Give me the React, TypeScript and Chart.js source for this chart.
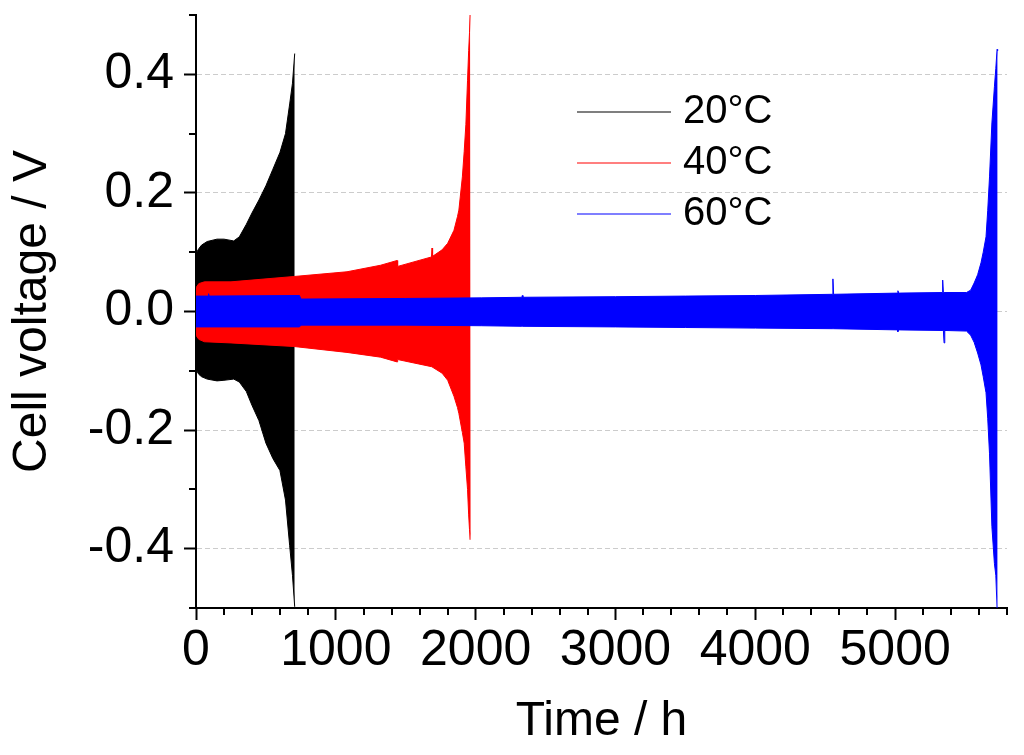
import { useEffect, useRef } from 'react';
import { Chart, Plugin } from 'chart.js/auto';

const FONT = "'Liberation Sans', Arial, sans-serif";

const seriesNames = ['20°C', '40°C', '60°C'];
const seriesColors = ['#000000', '#ff0000', '#0000ff'];

// 20 °C cell: envelope of the voltage swing (time in h, voltage in V)
const blackTime = [0, 20, 40, 80, 150, 200, 270, 310, 360, 400, 450, 500, 550, 600, 640, 670, 690, 706];
const blackHigh = [0.098, 0.106, 0.112, 0.118, 0.122, 0.122, 0.119, 0.126, 0.147, 0.166, 0.188, 0.212, 0.24, 0.268, 0.3, 0.35, 0.385, 0.435];
const blackLow = [-0.098, -0.106, -0.11, -0.114, -0.117, -0.116, -0.114, -0.119, -0.135, -0.158, -0.184, -0.222, -0.248, -0.268, -0.318, -0.395, -0.445, -0.498];

// 40 °C cell
const redTime = [0, 20, 60, 250, 700, 1080, 1320, 1438, 1442, 1684, 1688, 1692, 1760, 1800, 1845, 1870, 1880, 1905, 1918, 1930, 1942, 1950, 1956, 1960, 1965];
const redHigh = [0.04, 0.047, 0.05, 0.05, 0.059, 0.067, 0.078, 0.086, 0.076, 0.092, 0.107, 0.093, 0.104, 0.115, 0.137, 0.16, 0.171, 0.227, 0.27, 0.315, 0.39, 0.44, 0.47, 0.5, 0.5];
const redLow = [-0.04, -0.047, -0.051, -0.053, -0.059, -0.069, -0.077, -0.085, -0.081, -0.093, -0.093, -0.094, -0.104, -0.116, -0.143, -0.162, -0.172, -0.204, -0.222, -0.262, -0.3, -0.343, -0.368, -0.385, -0.385];

// 60 °C cell
const blueTime = [0, 86, 90, 94, 740, 750, 1500, 2040, 2330, 2334, 2338, 3000, 3500, 4000, 4550, 4555, 4560, 5015, 5020, 5025, 5336, 5340, 5345, 5350, 5355, 5510, 5540, 5565, 5590, 5614, 5630, 5650, 5662, 5675, 5692, 5710, 5720, 5729, 5733];
const blueHigh = [0.026, 0.026, 0.03, 0.026, 0.027, 0.021, 0.022, 0.023, 0.024, 0.027, 0.024, 0.025, 0.026, 0.027, 0.029, 0.055, 0.029, 0.031, 0.035, 0.031, 0.032, 0.053, 0.032, 0.032, 0.032, 0.032, 0.036, 0.048, 0.062, 0.082, 0.1, 0.126, 0.17, 0.227, 0.318, 0.379, 0.41, 0.442, 0.44];
const blueLow = [-0.026, -0.026, -0.026, -0.026, -0.026, -0.023, -0.023, -0.024, -0.025, -0.025, -0.025, -0.026, -0.027, -0.028, -0.029, -0.029, -0.029, -0.031, -0.034, -0.031, -0.032, -0.032, -0.032, -0.053, -0.032, -0.033, -0.04, -0.052, -0.07, -0.09, -0.11, -0.137, -0.18, -0.24, -0.363, -0.425, -0.445, -0.5, -0.5];

const xTicks = [0, 1000, 2000, 3000, 4000, 5000];
const yTicks = [-0.4, -0.2, 0, 0.2, 0.4];
const xMinorStep = 200;
const yMinorStep = 0.1;

const toPoints = (t: number[], v: number[]) => t.map((x, i) => ({ x, y: v[i] }));

const band = (t: number[], hi: number[], lo: number[], color: string) => [
  {
    data: toPoints(t, hi),
    borderColor: color,
    backgroundColor: color,
    borderWidth: 1,
    pointRadius: 0,
    fill: '+1',
  },
  {
    data: toPoints(t, lo),
    borderColor: color,
    backgroundColor: color,
    borderWidth: 1,
    pointRadius: 0,
    fill: false,
  },
];

// short unlabelled ticks between the labelled ones
const minorTicks: Plugin = {
  id: 'minorTicks',
  afterDraw(chart) {
    const { ctx } = chart;
    const x = chart.scales.x;
    const y = chart.scales.y;
    ctx.save();
    ctx.strokeStyle = '#000';
    ctx.lineWidth = 2;
    ctx.beginPath();
    for (let v = x.min; v <= x.max + 1e-6; v += xMinorStep) {
      if (xTicks.includes(Math.round(v))) continue;
      const px = Math.round(x.getPixelForValue(v));
      ctx.moveTo(px, x.top);
      ctx.lineTo(px, x.top + 7);
    }
    for (let k = Math.round(y.min / yMinorStep); k <= Math.round(y.max / yMinorStep); k++) {
      const v = k * yMinorStep;
      if (yTicks.some((t) => Math.abs(t - v) < 1e-6)) continue;
      const py = Math.round(y.getPixelForValue(v));
      ctx.moveTo(y.right, py);
      ctx.lineTo(y.right - 7, py);
    }
    ctx.stroke();
    ctx.restore();
  },
};

// legend drawn inside the plot
const insideLegend: Plugin = {
  id: 'insideLegend',
  afterDatasetsDraw(chart) {
    const { ctx } = chart;
    ctx.save();
    ctx.font = `40px ${FONT}`;
    ctx.textBaseline = 'middle';
    ctx.textAlign = 'left';
    seriesNames.forEach((name, i) => {
      const y = 112 + i * 51;
      ctx.strokeStyle = seriesColors[i];
      ctx.lineWidth = 1.2;
      ctx.beginPath();
      ctx.moveTo(577, y);
      ctx.lineTo(671, y);
      ctx.stroke();
      ctx.fillStyle = '#000';
      ctx.fillText(name, 683, y);
    });
    ctx.restore();
  },
};

const App = () => {
  const chartRef = useRef<HTMLCanvasElement | null>(null);

  useEffect(() => {
    if (!chartRef.current) return;
    const ctx = chartRef.current.getContext('2d');
    if (!ctx) return;

    const chart = new Chart(ctx, {
      type: 'line',
      data: {
        datasets: [
          ...band(blueTime, blueHigh, blueLow, seriesColors[2]),
          ...band(redTime, redHigh, redLow, seriesColors[1]),
          ...band(blackTime, blackHigh, blackLow, seriesColors[0]),
        ],
      },
      options: {
        responsive: false,
        animation: false,
        layout: { padding: { left: 0, right: 17, top: 15, bottom: 0 } },
        plugins: {
          legend: { display: false },
          tooltip: { enabled: false },
        },
        scales: {
          x: {
            type: 'linear',
            position: 'bottom',
            min: 0,
            max: 5800,
            afterBuildTicks: (s) => {
              s.ticks = xTicks.map((value) => ({ value }));
            },
            afterFit: (s) => {
              s.height = 147;
              s.paddingLeft = 0;
              s.paddingRight = 0;
            },
            ticks: {
              font: { family: FONT, size: 50 },
              color: '#000',
              padding: 1,
              maxRotation: 0,
              autoSkip: false,
              callback: (v) => String(v),
            },
            grid: {
              drawOnChartArea: false,
              tickLength: 12,
              tickColor: '#000',
              tickWidth: 2,
            },
            border: { display: true, color: '#000', width: 2 },
            title: {
              display: true,
              text: 'Time / h',
              font: { family: FONT, size: 48 },
              color: '#000',
              padding: { top: 4, bottom: 4 },
            },
          },
          y: {
            type: 'linear',
            min: -0.5,
            max: 0.5,
            afterBuildTicks: (s) => {
              s.ticks = yTicks.map((value) => ({ value }));
            },
            afterFit: (s) => {
              s.width = 196;
              s.paddingTop = 0;
              s.paddingBottom = 0;
            },
            ticks: {
              font: { family: FONT, size: 50 },
              color: '#000',
              padding: 10,
              callback: (v) => Number(v).toFixed(1),
            },
            grid: {
              color: '#cccccc',
              lineWidth: 1,
              tickLength: 12,
              tickColor: '#000',
              tickWidth: 2,
            },
            border: { display: true, color: '#000', width: 2, dash: [5, 3] },
            title: {
              display: true,
              text: 'Cell voltage / V',
              font: { family: FONT, size: 48 },
              color: '#000',
              padding: { top: 4, bottom: 4 },
            },
          },
        },
      },
      plugins: [minorTicks, insideLegend],
    });

    return () => chart.destroy();
  }, []);

  return (
    <div style={{ position: 'absolute', left: 0, top: 0, width: 1024, height: 755, background: '#fff' }}>
      <canvas ref={chartRef} width={1024} height={755} style={{ display: 'block' }} />
    </div>
  );
};

export default App;
